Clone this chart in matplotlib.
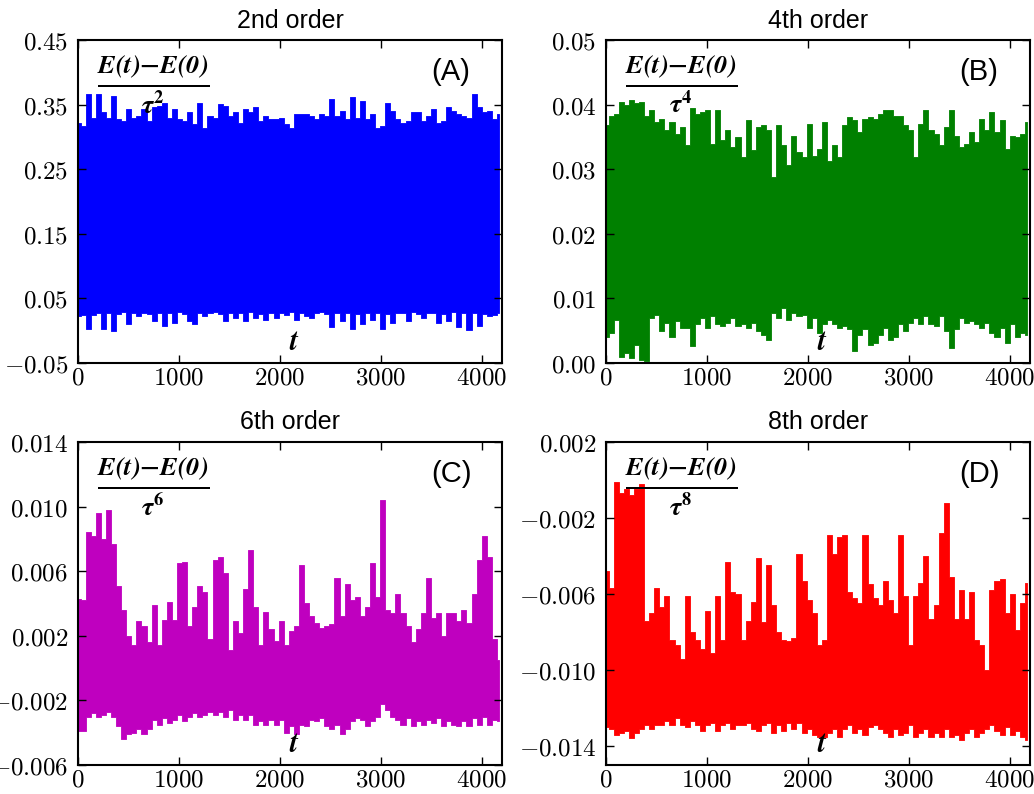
import numpy as np
import matplotlib
matplotlib.use('Agg')
import matplotlib.pyplot as plt
from matplotlib.ticker import FixedLocator, FuncFormatter

plt.rcParams['font.family'] = ['Liberation Sans', 'DejaVu Sans']
plt.rcParams['mathtext.fontset'] = 'cm'
plt.rcParams['axes.linewidth'] = 1.5
for ax_name in ['xtick', 'ytick']:
    plt.rcParams[ax_name + '.direction'] = 'in'
    plt.rcParams[ax_name + '.major.size'] = 6
    plt.rcParams[ax_name + '.major.width'] = 1.0
plt.rcParams['xtick.major.pad'] = 2
plt.rcParams['ytick.major.pad'] = 7
plt.rcParams['xtick.top'] = True
plt.rcParams['ytick.right'] = True

# last sample time
t_end = 4175

# highest / lowest value of the trace in each 50-unit stretch of t
a_peaks = [0.322, 0.317, 0.366, 0.330, 0.366, 0.338, 0.330, 0.364, 0.327, 0.325,
           0.343, 0.330, 0.333, 0.343, 0.325, 0.346, 0.348, 0.353, 0.330, 0.343,
           0.327, 0.325, 0.338, 0.320, 0.353, 0.314, 0.333, 0.330, 0.351, 0.348,
           0.333, 0.338, 0.322, 0.343, 0.338, 0.346, 0.325, 0.333, 0.327, 0.327,
           0.330, 0.320, 0.314, 0.335, 0.335, 0.335, 0.333, 0.327, 0.335, 0.333,
           0.358, 0.333, 0.340, 0.327, 0.361, 0.330, 0.356, 0.327, 0.335, 0.314,
           0.317, 0.353, 0.340, 0.327, 0.322, 0.325, 0.338, 0.338, 0.325, 0.333,
           0.343, 0.322, 0.325, 0.346, 0.340, 0.335, 0.333, 0.330, 0.366, 0.346,
           0.338, 0.340, 0.327, 0.335]
a_troughs = [0.023, 0.025, 0.002, 0.025, 0.028, 0.002, 0.027, -0.001, 0.026, 0.029,
             0.010, 0.027, 0.023, 0.028, 0.026, 0.015, 0.028, 0.007, 0.027, 0.012,
             0.029, 0.026, 0.015, 0.010, 0.028, 0.023, 0.027, 0.029, 0.026, 0.015,
             0.028, 0.020, 0.027, 0.015, 0.029, 0.020, 0.026, 0.017, 0.028, 0.020,
             0.027, 0.025, 0.029, 0.017, 0.028, 0.023, 0.020, 0.027, 0.029, 0.026,
             0.005, 0.027, 0.015, 0.028, 0.002, 0.026, 0.010, 0.028, 0.017, 0.027,
             0.002, 0.026, 0.012, 0.028, 0.027, 0.015, 0.029, 0.026, 0.020, 0.028,
             0.027, 0.012, 0.026, 0.015, 0.029, 0.005, 0.027, 0.001, 0.028, 0.007,
             0.026, 0.023, 0.025, 0.027]

b_peaks = [0.0368, 0.0383, 0.0386, 0.0404, 0.0399, 0.0407, 0.0402, 0.0404, 0.0383, 0.0391,
           0.0373, 0.0378, 0.0360, 0.0373, 0.0355, 0.0365, 0.0337, 0.0394, 0.0386, 0.0389,
           0.0391, 0.0339, 0.0391, 0.0345, 0.0360, 0.0334, 0.0350, 0.0319, 0.0376, 0.0329,
           0.0365, 0.0368, 0.0360, 0.0288, 0.0368, 0.0337, 0.0306, 0.0352, 0.0326, 0.0319,
           0.0370, 0.0321, 0.0332, 0.0373, 0.0313, 0.0337, 0.0319, 0.0368, 0.0381, 0.0376,
           0.0358, 0.0378, 0.0381, 0.0378, 0.0386, 0.0391, 0.0391, 0.0383, 0.0383, 0.0368,
           0.0360, 0.0319, 0.0370, 0.0391, 0.0360, 0.0355, 0.0337, 0.0365, 0.0391, 0.0352,
           0.0334, 0.0339, 0.0358, 0.0342, 0.0378, 0.0360, 0.0389, 0.0358, 0.0376, 0.0332,
           0.0352, 0.0350, 0.0355, 0.0373]
b_troughs = [0.0041, 0.0047, 0.0067, 0.0010, 0.0016, 0.0008, 0.0028, 0.0005, 0.0003, 0.0070,
             0.0075, 0.0049, 0.0062, 0.0041, 0.0065, 0.0054, 0.0054, 0.0026, 0.0060, 0.0070,
             0.0054, 0.0073, 0.0060, 0.0057, 0.0062, 0.0070, 0.0057, 0.0060, 0.0054, 0.0062,
             0.0049, 0.0044, 0.0036, 0.0078, 0.0070, 0.0085, 0.0067, 0.0078, 0.0073, 0.0075,
             0.0054, 0.0070, 0.0047, 0.0060, 0.0067, 0.0060, 0.0054, 0.0057, 0.0052, 0.0018,
             0.0044, 0.0052, 0.0028, 0.0031, 0.0044, 0.0054, 0.0036, 0.0041, 0.0060, 0.0049,
             0.0062, 0.0070, 0.0060, 0.0073, 0.0060, 0.0057, 0.0073, 0.0049, 0.0023, 0.0052,
             0.0070, 0.0062, 0.0065, 0.0060, 0.0054, 0.0062, 0.0047, 0.0041, 0.0054, 0.0031,
             0.0060, 0.0041, 0.0047, 0.0044]

c_peaks = [0.0043, 0.0042, 0.0084, 0.0082, 0.0096, 0.0080, 0.0098, 0.0077, 0.0051, 0.0036,
           0.0020, 0.0014, 0.0029, 0.0026, 0.0016, 0.0039, 0.0014, 0.0030, 0.0041, 0.0030,
           0.0065, 0.0066, 0.0026, 0.0038, 0.0051, 0.0047, 0.0018, 0.0067, 0.0069, 0.0059,
           0.0011, 0.0029, 0.0022, 0.0049, 0.0073, 0.0038, 0.0014, 0.0035, 0.0024, 0.0017,
           0.0029, 0.0014, 0.0023, 0.0026, 0.0064, 0.0040, 0.0032, 0.0028, 0.0025, 0.0026,
           0.0027, 0.0056, 0.0032, 0.0052, 0.0042, 0.0044, 0.0032, 0.0038, 0.0065, 0.0044,
           0.0104, 0.0036, 0.0034, 0.0046, 0.0034, 0.0026, 0.0016, 0.0024, 0.0034, 0.0056,
           0.0031, 0.0034, 0.0020, 0.0034, 0.0034, 0.0029, 0.0036, 0.0028, 0.0046, 0.0067,
           0.0082, 0.0069, 0.0018, 0.0005]
c_troughs = [-0.0039, -0.0039, -0.0030, -0.0028, -0.0030, -0.0029, -0.0027, -0.0030, -0.0036, -0.0044,
             -0.0041, -0.0040, -0.0038, -0.0041, -0.0038, -0.0032, -0.0035, -0.0031, -0.0034, -0.0032,
             -0.0029, -0.0033, -0.0030, -0.0028, -0.0030, -0.0029, -0.0027, -0.0029, -0.0027, -0.0030,
             -0.0026, -0.0032, -0.0029, -0.0032, -0.0029, -0.0035, -0.0033, -0.0035, -0.0032, -0.0035,
             -0.0032, -0.0040, -0.0036, -0.0041, -0.0035, -0.0036, -0.0032, -0.0033, -0.0031, -0.0036,
             -0.0038, -0.0035, -0.0041, -0.0038, -0.0033, -0.0031, -0.0032, -0.0036, -0.0033, -0.0030,
             -0.0022, -0.0026, -0.0030, -0.0032, -0.0035, -0.0031, -0.0036, -0.0033, -0.0035, -0.0032,
             -0.0034, -0.0031, -0.0036, -0.0033, -0.0035, -0.0036, -0.0033, -0.0036, -0.0031, -0.0035,
             -0.0030, -0.0035, -0.0032, -0.0033]

d_peaks = [-0.0048, -0.0057, -0.0001, -0.0007, -0.0005, -0.0008, -0.0005, -0.0002, -0.0074, -0.0070,
           -0.0057, -0.0067, -0.0061, -0.0084, -0.0087, -0.0094, -0.0061, -0.0080, -0.0084, -0.0089,
           -0.0069, -0.0091, -0.0061, -0.0084, -0.0043, -0.0059, -0.0060, -0.0084, -0.0074, -0.0064,
           -0.0041, -0.0075, -0.0045, -0.0066, -0.0080, -0.0084, -0.0085, -0.0083, -0.0039, -0.0053,
           -0.0063, -0.0070, -0.0087, -0.0084, -0.0029, -0.0039, -0.0030, -0.0029, -0.0059, -0.0062,
           -0.0065, -0.0029, -0.0055, -0.0062, -0.0066, -0.0053, -0.0063, -0.0070, -0.0029, -0.0061,
           -0.0087, -0.0061, -0.0054, -0.0040, -0.0073, -0.0066, -0.0028, -0.0012, -0.0051, -0.0073,
           -0.0058, -0.0073, -0.0059, -0.0084, -0.0087, -0.0100, -0.0058, -0.0053, -0.0052, -0.0070,
           -0.0060, -0.0079, -0.0065, -0.0054]
d_troughs = [-0.0130, -0.0131, -0.0134, -0.0133, -0.0132, -0.0136, -0.0133, -0.0131, -0.0129, -0.0131,
             -0.0129, -0.0129, -0.0127, -0.0129, -0.0125, -0.0129, -0.0130, -0.0127, -0.0129, -0.0132,
             -0.0129, -0.0128, -0.0132, -0.0129, -0.0128, -0.0131, -0.0129, -0.0129, -0.0128, -0.0131,
             -0.0132, -0.0129, -0.0128, -0.0133, -0.0129, -0.0132, -0.0128, -0.0131, -0.0128, -0.0133,
             -0.0131, -0.0134, -0.0135, -0.0135, -0.0133, -0.0131, -0.0135, -0.0131, -0.0129, -0.0133,
             -0.0131, -0.0134, -0.0130, -0.0129, -0.0131, -0.0133, -0.0135, -0.0131, -0.0134, -0.0133,
             -0.0129, -0.0135, -0.0133, -0.0131, -0.0135, -0.0133, -0.0135, -0.0131, -0.0135, -0.0134,
             -0.0137, -0.0133, -0.0131, -0.0135, -0.0133, -0.0131, -0.0129, -0.0132, -0.0134, -0.0130,
             -0.0134, -0.0132, -0.0135, -0.0137]

titles = ['2nd order', '4th order', '6th order', '8th order']
tags = ['(A)', '(B)', '(C)', '(D)']
powers = [2, 4, 6, 8]
colors = ['#0000ff', '#008000', '#bf00bf', '#ff0000']
yticks = [[-0.05, 0.05, 0.15, 0.25, 0.35, 0.45],
          [0.00, 0.01, 0.02, 0.03, 0.04, 0.05],
          [-0.006, -0.002, 0.002, 0.006, 0.010, 0.014],
          [-0.014, -0.010, -0.006, -0.002, 0.002]]
ylims = [(-0.05, 0.45), (0.0, 0.05), (-0.006, 0.014), (-0.015, 0.002)]
decimals = [2, 2, 3, 3]
series = [(a_peaks, a_troughs), (b_peaks, b_troughs),
          (c_peaks, c_troughs), (d_peaks, d_troughs)]

fig = plt.figure(figsize=(10.34, 7.94), dpi=100)
W, H = 1034.0, 794.0
# axes boxes in pixels: left, top, right, bottom
boxes = [(78, 40, 502, 363), (606, 40, 1030, 363),
         (78, 442, 502, 765), (606, 442, 1030, 765)]

for i in range(4):
    l, tp, r, b = boxes[i]
    ax = fig.add_axes([l / W, 1 - b / H, (r - l) / W, (b - tp) / H])
    peaks, troughs = series[i]
    t = np.linspace(0, t_end, len(peaks))
    # the trace is so dense that every pixel column is painted from its min to its max
    ax.fill_between(t, troughs, peaks, step='mid', color=colors[i], lw=0.6)
    ax.set_xlim(0, 4200)
    ax.set_ylim(*ylims[i])
    ax.xaxis.set_major_locator(FixedLocator([0, 1000, 2000, 3000, 4000]))
    ax.xaxis.set_major_formatter(FuncFormatter(lambda v, p: r'$%d$' % v))
    ax.yaxis.set_major_locator(FixedLocator(yticks[i]))
    fmt = r'$%.' + str(decimals[i]) + 'f$'
    ax.yaxis.set_major_formatter(FuncFormatter(lambda v, p, fmt=fmt: fmt % v))
    ax.tick_params(labelsize=18)
    ax.set_title(titles[i], fontsize=18, pad=9)
    ax.text(0.88, 0.9, tags[i], transform=ax.transAxes, fontsize=21,
            ha='center', va='center')
    ax.text(0.045, 0.958,
            r'$\frac{\mathbfit{E(t)}\mathbf{-}\mathbfit{E(0)}}{\mathbfit{\tau}^{\mathbf{%d}}}$' % powers[i],
            transform=ax.transAxes, fontsize=27, ha='left', va='top',
            math_fontfamily='stix')
    ax.text(0.51, 0.065, r'$\mathbfit{t}$', transform=ax.transAxes,
            fontsize=21, ha='center', va='center', math_fontfamily='stix')

fig.savefig('out.png', dpi=100)
